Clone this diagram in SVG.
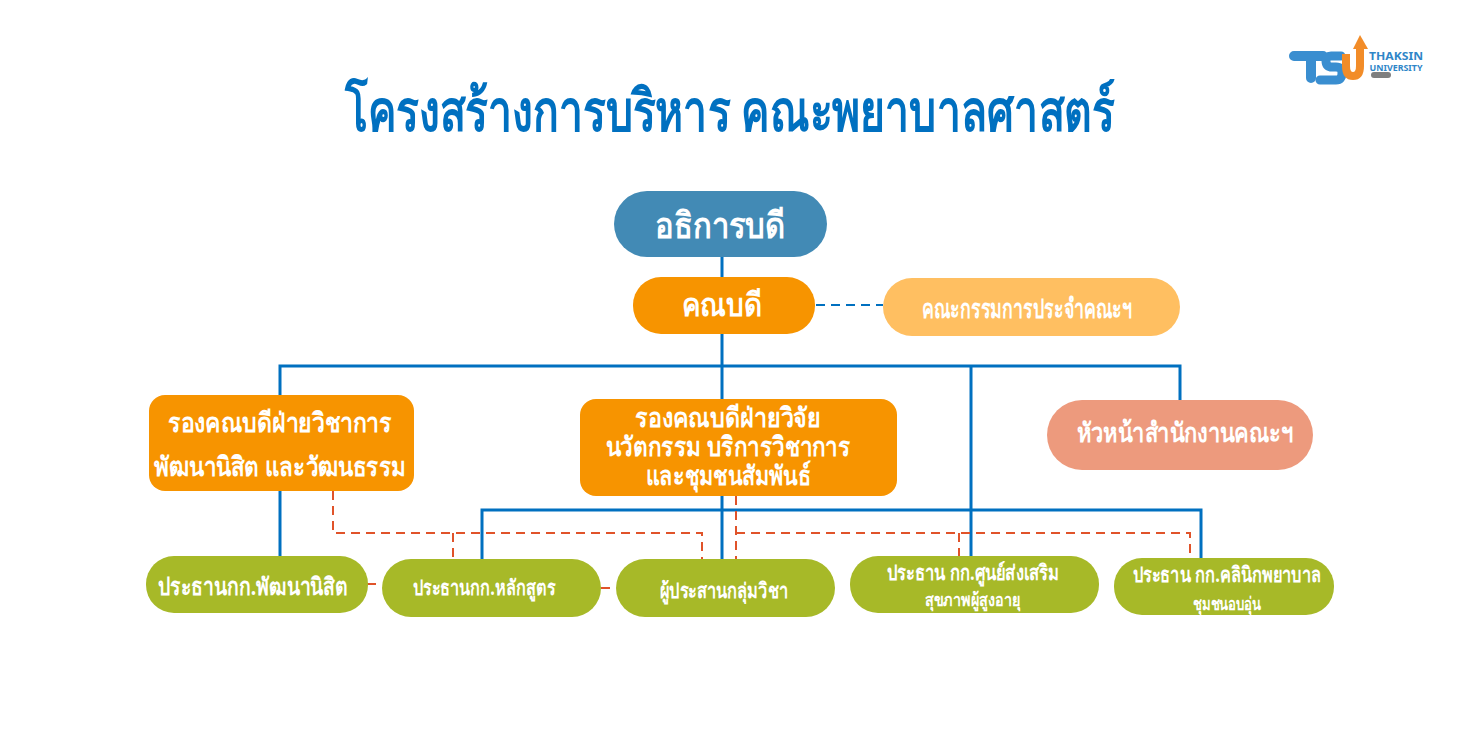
<svg xmlns="http://www.w3.org/2000/svg" width="1462" height="740" viewBox="0 0 1462 740">
<style>
text{font-family:"Noto Sans","Liberation Sans",sans-serif;font-weight:700;fill:#fff;text-anchor:middle;dominant-baseline:alphabetic}
.title{fill:#0070c0;font-size:58px}
.b{fill:none;stroke:#0070c0;stroke-width:3}
.bd{fill:none;stroke:#0070c0;stroke-width:2;stroke-dasharray:9 6}
.o{fill:none;stroke:#e0532a;stroke-width:2;stroke-dasharray:9 6}
.green{fill:#a7b928}.orange{fill:#f79400}
</style>
<rect width="1462" height="740" fill="#fff"/>
<text class="title" x="730" y="131" textLength="770" lengthAdjust="spacingAndGlyphs">โครงสร้างการบริหาร คณะพยาบาลศาสตร์</text>
<g id="logo">
<path d="M1294 56H1323M1311 56V78" fill="none" stroke="#3a8ed0" stroke-width="10" stroke-linecap="round"/>
<path d="M1341 56H1331Q1326 56 1326 61Q1326 67 1332 67H1336Q1342 67 1342 73Q1342 80 1336 80H1320" fill="none" stroke="#3a8ed0" stroke-width="9" stroke-linecap="round"/>
<path d="M1346 54V66Q1346 76 1353 76Q1360 76 1360 66V48" fill="none" stroke="#f28c28" stroke-width="8"/>
<path d="M1353 49L1360 35L1368 49Z" fill="#f28c28"/>
<text x="1396" y="60" font-size="10" style="fill:#2f86c8" textLength="54" lengthAdjust="spacingAndGlyphs">THAKSIN</text>
<text x="1396" y="71" font-size="8.5" style="fill:#2f86c8" textLength="53" lengthAdjust="spacingAndGlyphs">UNIVERSITY</text>
<rect x="1371" y="72" width="20" height="6" rx="3" fill="#7f7f7f"/>
</g>
<g id="connectors">
<path class="b" d="M722 257V278M722 333V399M280 396V366H1180V400M971 366V557M722 496V559M482 563V510H1201V564"/>
<path class="b" d="M280 490V557"/>
<path class="bd" d="M816 305H883"/>
<path class="o" d="M333 491V533H702V559M453 533V559M736 496V559M736 533H1190V558M959 533V556M367 584H382M601 588H616"/>
</g>
<g id="n1"><rect x="614" y="191" width="213" height="66" rx="33" fill="#428ab5"/><text x="720" y="238" font-size="36" textLength="130" lengthAdjust="spacingAndGlyphs">อธิการบดี</text></g>
<g id="n2"><rect x="633" y="277" width="182" height="57" rx="28" class="orange"/><text x="722" y="316" font-size="32" textLength="80" lengthAdjust="spacingAndGlyphs">คณบดี</text></g>
<g id="n3"><rect x="883" y="278" width="297" height="58" rx="29" fill="#ffbf61"/><text x="1027" y="318" font-size="27" textLength="210" lengthAdjust="spacingAndGlyphs" >คณะกรรมการประจำคณะฯ</text></g>
<g id="n4"><rect x="149" y="395" width="265" height="96" rx="16" class="orange"/><text x="280" y="432" font-size="27" textLength="224" lengthAdjust="spacingAndGlyphs">รองคณบดีฝ่ายวิชาการ</text><text x="280" y="476" font-size="27" textLength="252" lengthAdjust="spacingAndGlyphs">พัฒนานิสิต และวัฒนธรรม</text></g>
<g id="n5"><rect x="580" y="399" width="317" height="97" rx="16" class="orange"/><text x="728" y="427" font-size="27" textLength="186" lengthAdjust="spacingAndGlyphs">รองคณบดีฝ่ายวิจัย</text><text x="728" y="456" font-size="27" textLength="245" lengthAdjust="spacingAndGlyphs">นวัตกรรม บริการวิชาการ</text><text x="728" y="485" font-size="27" textLength="165" lengthAdjust="spacingAndGlyphs">และชุมชนสัมพันธ์</text></g>
<g id="n6"><rect x="1047" y="400" width="266" height="70" rx="35" fill="#ed9a7d"/><text x="1185" y="442" font-size="27" textLength="217" lengthAdjust="spacingAndGlyphs">หัวหน้าสำนักงานคณะฯ</text></g>
<g id="n7"><rect x="146" y="556" width="222" height="57" rx="28" class="green"/><text x="253" y="595" font-size="24" textLength="190" lengthAdjust="spacingAndGlyphs">ประธานกก.พัฒนานิสิต</text></g>
<g id="n8"><rect x="382" y="559" width="219" height="58" rx="29" class="green"/><text x="484" y="595" font-size="21" textLength="142" lengthAdjust="spacingAndGlyphs">ประธานกก.หลักสูตร</text></g>
<g id="n9"><rect x="616" y="559" width="219" height="58" rx="29" class="green"/><text x="724" y="598" font-size="21" textLength="128" lengthAdjust="spacingAndGlyphs">ผู้ประสานกลุ่มวิชา</text></g>
<g id="n10"><rect x="850" y="556" width="249" height="57" rx="28" class="green"/><text x="973" y="580" font-size="21" textLength="172" lengthAdjust="spacingAndGlyphs">ประธาน กก.ศูนย์ส่งเสริม</text><text x="973" y="606" font-size="18" textLength="96" lengthAdjust="spacingAndGlyphs">สุขภาพผู้สูงอายุ</text></g>
<g id="n11"><rect x="1114" y="558" width="220" height="57" rx="28" class="green"/><text x="1227" y="582" font-size="21" textLength="188" lengthAdjust="spacingAndGlyphs">ประธาน กก.คลินิกพยาบาล</text><text x="1227" y="610" font-size="18" textLength="68" lengthAdjust="spacingAndGlyphs">ชุมชนอบอุ่น</text></g>
</svg>
